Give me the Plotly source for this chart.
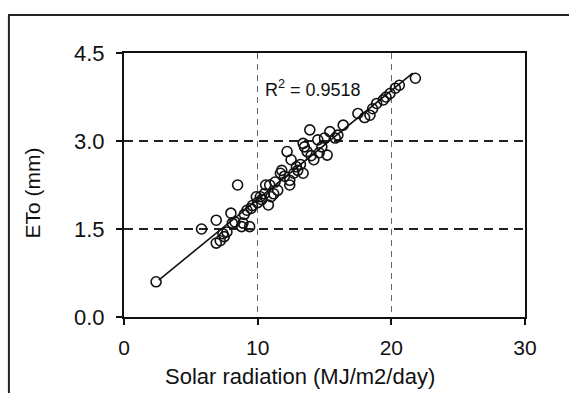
import numpy as np
import plotly.graph_objects as go

# Data
solar_radiation = [2.4, 5.8, 6.9, 6.9, 7.2, 7.4, 7.5, 7.7, 8.0, 8.1,
                   8.3, 8.5, 8.8, 8.9, 9.0, 9.2, 9.4, 9.5, 9.6, 9.9,
                   10.0, 10.2, 10.3, 10.5, 10.6, 10.8, 10.9, 11.0, 11.2, 11.3,
                   11.5, 11.7, 11.8, 12.0, 12.2, 12.4, 12.4, 12.5, 12.7, 12.9,
                   13.0, 13.2, 13.4, 13.4, 13.5, 13.7, 13.9, 14.0, 14.2, 14.5,
                   14.6, 14.8, 15.0, 15.2, 15.4, 15.8, 16.0, 16.4, 17.5, 18.0,
                   18.4, 18.6, 18.9, 19.4, 19.6, 19.9, 20.3, 20.6, 21.8]
eto_mm = [0.6, 1.5, 1.26, 1.65, 1.3, 1.42, 1.37, 1.45, 1.77, 1.6,
          1.62, 2.25, 1.54, 1.6, 1.75, 1.82, 1.54, 1.85, 1.9, 2.05,
          1.95, 2.05, 2.0, 2.1, 2.25, 1.91, 2.25, 2.05, 2.1, 2.3,
          2.16, 2.45, 2.5, 2.4, 2.82, 2.33, 2.25, 2.68, 2.45, 2.56,
          2.5, 2.6, 2.96, 2.45, 2.9, 2.82, 3.19, 2.75, 2.68, 3.02,
          2.8, 2.9, 3.05, 2.76, 3.16, 3.05, 3.1, 3.27, 3.47, 3.4,
          3.44, 3.55, 3.64, 3.7, 3.75, 3.81, 3.9, 3.95, 4.07]
x_ticks = [0, 10, 20, 30]
y_ticks = [0.0, 1.5, 3.0, 4.5]
r2_label = "R<sup>2</sup> = 0.9518"
x_title = "Solar radiation (MJ/m2/day)"
y_title = "ETo (mm)"

# Linear trend line fitted to the data
slope, intercept = np.polyfit(solar_radiation, eto_mm, 1)
trend_x = [min(solar_radiation) + 0.2, max(solar_radiation) - 0.2]
trend_y = [slope * v + intercept for v in trend_x]

FONT = "Liberation Sans, Arial, sans-serif"
INK = "#111111"

fig = go.Figure()
fig.add_trace(go.Scatter(x=trend_x, y=trend_y, mode="lines",
                         line=dict(color=INK, width=1.6), showlegend=False,
                         hoverinfo="skip"))
fig.add_trace(go.Scatter(x=solar_radiation, y=eto_mm, mode="markers",
                         marker=dict(symbol="circle-open", size=10,
                                     color=INK, line=dict(width=1.6, color=INK)),
                         showlegend=False))

fig.update_layout(
    width=569, height=393,
    margin=dict(l=124, r=44, t=53, b=76),
    paper_bgcolor="white", plot_bgcolor="white",
    font=dict(family=FONT, color=INK, size=21),
    xaxis=dict(range=[0, 30], tickvals=x_ticks, ticktext=[str(v) for v in x_ticks],
               showline=True, linecolor=INK, linewidth=2, mirror=True,
               ticks="outside", ticklen=6, tickwidth=1.5, tickcolor=INK,
               showgrid=True, gridcolor="#666", griddash="6px,5px", gridwidth=1.2,
               zeroline=False, ticklabelstandoff=5,
               tickfont=dict(size=21, family=FONT, color=INK)),
    yaxis=dict(range=[0, 4.5], tickvals=y_ticks, tickformat=".1f",
               showline=True, linecolor=INK, linewidth=2, mirror=True,
               ticks="outside", ticklen=6, tickwidth=1.5, tickcolor=INK,
               showgrid=True, gridcolor="#222", griddash="9px,6px", gridwidth=1.8,
               zeroline=False, ticklabelstandoff=7,
               tickfont=dict(size=22, family=FONT, color=INK)),
    annotations=[
        dict(text=r2_label, x=10.4, y=3.9, xref="x", yref="y",
             xanchor="left", yanchor="middle", showarrow=False,
             font=dict(size=18, family=FONT, color=INK)),
        dict(text=x_title, x=0.44, y=-0.225, xref="paper", yref="paper",
             xanchor="center", yanchor="middle", showarrow=False,
             font=dict(size=22, family=FONT, color=INK)),
        dict(text=y_title, x=-0.228, y=0.47, xref="paper", yref="paper",
             xanchor="center", yanchor="middle", showarrow=False, textangle=-90,
             font=dict(size=21, family=FONT, color=INK)),
    ],
    shapes=[
        dict(type="line", xref="paper", yref="paper", x0=-0.289, x1=1.12,
             y0=1.144, y1=1.144, line=dict(color="#222", width=2)),
        dict(type="line", xref="paper", yref="paper", x0=-0.287, x1=-0.287,
             y0=1.144, y1=-0.3, line=dict(color="#222", width=2)),
    ],
)

fig.write_html("out.html")
